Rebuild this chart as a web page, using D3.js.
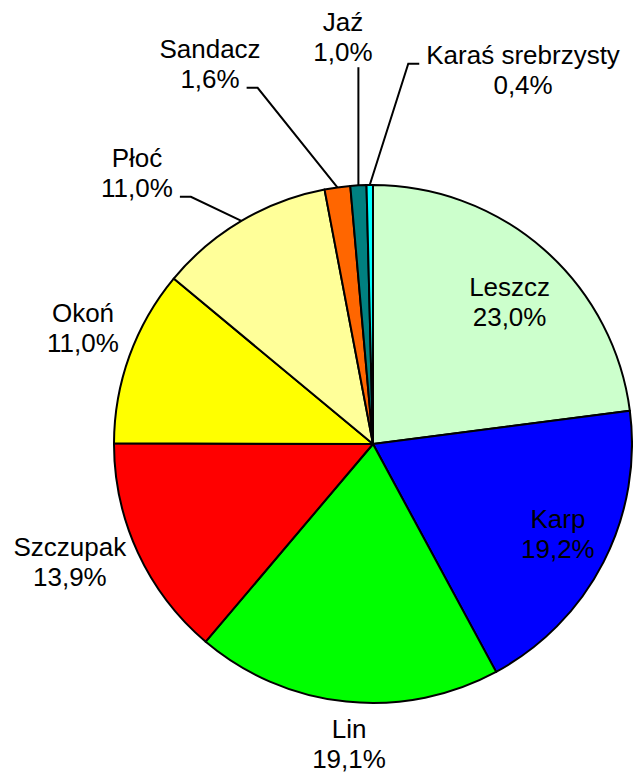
<!DOCTYPE html>
<html>
  <head>
    <meta charset="utf-8">
    <title>Pie</title>
    <script src="https://d3js.org/d3.v7.min.js"></script>
    <style>
      body { margin: 0; background: #fff; }
      text { font-family: "Liberation Sans", Arial, sans-serif; font-size: 26px; fill: #000; }
    </style>
  </head>
  <body>
    <div id="graph"></div>
  </body>

  <script>
    // Chart data
    const species = ["Leszcz", "Karp", "Lin", "Szczupak", "Okoń", "Płoć", "Sandacz", "Jaź", "Karaś srebrzysty"];
    const shares = [23.0, 19.2, 19.1, 13.9, 11.0, 11.0, 1.6, 1.0, 0.4];
    const colors = ["#ccffcc", "#0000ff", "#00ff00", "#ff0000", "#ffff00", "#ffff99", "#ff6600", "#008080", "#00ffff"];

    // Label placement: radius factor, angle nudge (deg), leader side, line the leader attaches to
    const label_layout = [
      {k: 0.761, da: 2.55},
      {k: 0.793, da: -1.31},
      {k: 1.160, da: -1.35},
      {k: 1.256, da: 3.51},
      {k: 1.206, da: 1.86},
      {k: 1.389, da: -10.46, leader: "right", line: 1},
      {k: 1.598, da: -15.29, leader: "right", line: 1},
      {k: 1.576, da: -0.99, leader: "bottom", line: 1},
      {k: 1.558, da: 22.55, leader: "left", line: 0}
    ];

    const width = 633;
    const height = 778;
    const cx = 373, cy = 444, radius = 259;
    const line_h = 30;

    const pl = d3.formatLocale({decimal: ",", thousands: " ", grouping: [3], currency: ["", " zł"]});
    const fmt = v => pl.format(".1f")(v) + "%";

    let svg = d3.select("#graph").append("svg")
      .attr("width", width)
      .attr("height", height);

    let g = svg.append("g").attr("transform", `translate(${cx},${cy})`);

    const pie = d3.pie().sort(null).value(d => d);
    const arcs = pie(shares);
    const arc = d3.arc().innerRadius(0).outerRadius(radius);

    // Slices
    g.selectAll("path.slice")
      .data(arcs)
      .enter()
      .append("path")
      .attr("class", "slice")
      .attr("d", arc)
      .attr("fill", (d, i) => colors[i])
      .attr("stroke", "#000")
      .attr("stroke-width", 2)
      .attr("stroke-linejoin", "round");

    const polar = (ang, r) => [r * Math.sin(ang), -r * Math.cos(ang)];

    // Labels
    arcs.forEach(function(d, i) {
      const lay = label_layout[i];
      const mid = (d.startAngle + d.endAngle) / 2;
      const p = polar(mid + lay.da * Math.PI / 180, radius * lay.k);
      const t = g.append("text")
        .attr("text-anchor", "middle");
      const lines = [species[i], fmt(shares[i])];
      const bases = [p[1] - 5.7, p[1] - 5.7 + line_h];
      const spans = lines.map((s, j) => t.append("tspan")
        .attr("x", p[0])
        .attr("y", bases[j])
        .text(s));

      if (lay.leader) {
        const a = polar(mid, radius);
        const w = spans[lay.line].node().getComputedTextLength();
        const yb = bases[lay.line];
        let pts;
        if (lay.leader === "right") {
          const x0 = p[0] + w / 2 + 7;
          pts = [[x0, yb], [x0 + 11, yb], a];
        } else if (lay.leader === "left") {
          const x0 = p[0] - w / 2 - 7;
          pts = [[x0, yb], [x0 - 11, yb], a];
        } else {
          pts = [[a[0], bases[1] + 6], a];
        }
        g.append("path")
          .attr("d", d3.line()(pts))
          .attr("fill", "none")
          .attr("stroke", "#000")
          .attr("stroke-width", 2);
      }
    });
  </script>
</html>
